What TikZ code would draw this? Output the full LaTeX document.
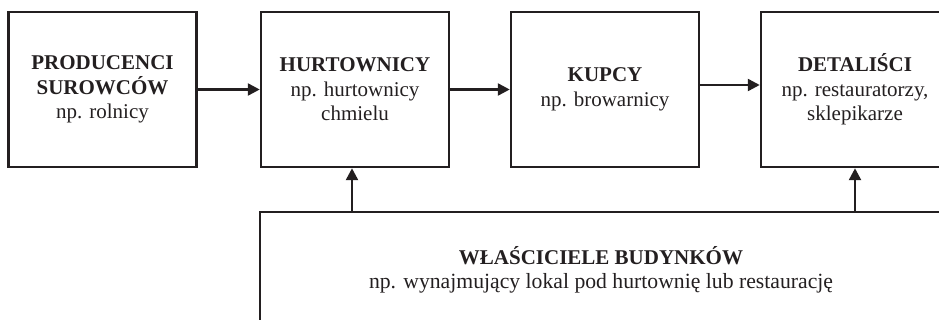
\documentclass[tikz,border=0pt]{standalone}
\usepackage{fontspec}
\setmainfont{Liberation Serif}
\usetikzlibrary{arrows.meta}
\definecolor{ink}{HTML}{231F20}
\tikzset{
  box/.style={draw=ink, line width=2.5pt, minimum width=188pt, minimum height=155pt,
    inner sep=0pt, align=center, text=ink, font=\fontsize{21}{24.5}\selectfont},
  wide/.style={box, minimum width=682pt, minimum height=116pt},
  conn/.style={draw=ink, line width=2.5pt, -{Triangle[length=12pt,width=12pt]}}
}
\begin{document}
\begin{tikzpicture}[x=1pt,y=-1pt]
\useasboundingbox (0,0) rectangle (939,320);
\clip (0,0) rectangle (939,320);
\node[box] (b1) at (102.5,89.5) {\textbf{PRODUCENCI}\\\textbf{SUROWCÓW}\\np. rolnicy};
\node[box] (b2) at (355,89.5) {\textbf{HURTOWNICY}\\np. hurtownicy\\chmielu};
\node[box] (b3) at (605,89.5) {\textbf{KUPCY}\\np. browarnicy};
\node[box] (b4) at (855,89.5) {\textbf{DETALIŚCI}\\np. restauratorzy,\\sklepikarze};
\node[wide] (w) at (601,270) {\textbf{WŁAŚCICIELE BUDYNKÓW}\\{\fontsize{21.7}{24.5}\selectfont np. wynajmujący lokal pod hurtownię lub restaurację}};
\draw[conn] (b1.east) -- (b2.west);
\draw[conn] (b2.east) -- (b3.west);
\draw[conn] ([yshift=4.5pt]b3.east) -- ([yshift=4.5pt]b4.west);
\draw[conn] ([xshift=-3pt]b2.south |- w.north) -- ([xshift=-3pt]b2.south);
\draw[conn] (b4.south |- w.north) -- (b4.south);
\end{tikzpicture}
\end{document}
